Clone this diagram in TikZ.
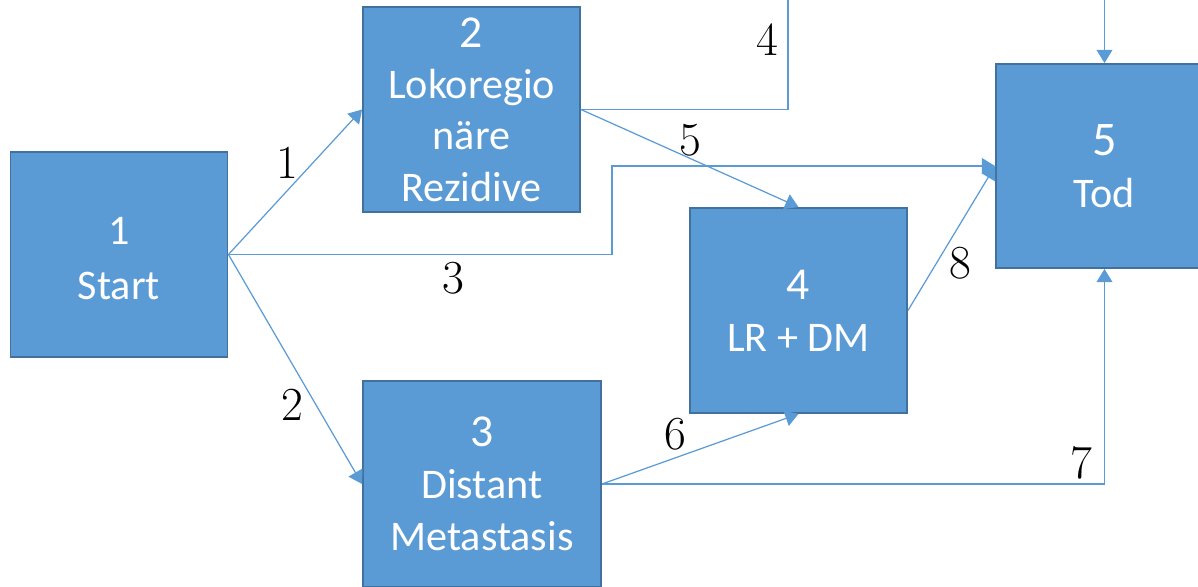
\documentclass[tikz,border=0pt]{standalone}
\usepackage{fontspec}
\usetikzlibrary{arrows.meta}
\newfontfamily\boxfont{Carlito}
\definecolor{boxfill}{HTML}{5B9BD5}
\definecolor{boxline}{HTML}{41719C}
\tikzset{
  state/.style={draw=boxline, line width=1.1pt, fill=boxfill, text=white,
    inner sep=0pt, align=center, minimum width=4.34cm, minimum height=4.1cm},
  trans/.style={draw=boxfill, line width=0.7pt, -{Triangle[length=7.5pt,width=9pt]}},
  lab/.style={font=\fontsize{27}{30}\selectfont}
}
\newcommand{\numline}[2]{{\fontsize{#1}{29.6}\selectfont #2}}
\begin{document}
\begin{tikzpicture}[x=0.02cm, y=-0.02cm]
    \useasboundingbox (0,0) rectangle (1198,587);
    \clip (0,0) rectangle (1198,587);
    % states
    \node[state, font=\boxfont\fontsize{24}{31}\selectfont] (start) at (119,254.5)
        {\rule{0pt}{20pt}1\\Start};
    \node[state, font=\boxfont\fontsize{24}{29.2}\selectfont] (lr) at (471.5,109.5)
        {\numline{26}{2}\\Lokoregio\\näre\\Rezidive};
    \node[state, minimum width=4.76cm, minimum height=4.12cm,
        font=\boxfont\fontsize{24}{29.6}\selectfont] (dm) at (482,484)
        {\numline{26}{3}\\Distant\\Metastasis};
    \node[state, font=\boxfont\fontsize{24}{29.6}\selectfont] (lrdm) at (798.5,310.5)
        {\numline{26}{4}\\LR + DM};
    \node[state, minimum height=4.08cm, font=\boxfont\fontsize{24}{29.6}\selectfont] (tod) at (1104.5,166)
        {\numline{27.5}{5}\\Tod};
    % bends
    \coordinate (k3) at (612,254.5);
    \coordinate (k4) at (788,-30);
    % transitions
    \draw[trans] (start.east) -- (lr.west);
    \draw[trans] (start.east) -- (dm.west);
    \draw[trans] (start.east) -- (k3) |- (tod.west);
    \draw[trans] (lr.east) -| (k4) -| (tod.north);
    \draw[trans] (lr.east) -- (lrdm.north);
    \draw[trans] (dm.east) -- (lrdm.south);
    \draw[trans] (dm.east) -| (tod.south);
    \draw[trans] (lrdm.east) -- (tod.west);
    % labels
    \node[lab] (l1) at (287,163) {1};
    \node[lab] (l2) at (292,405) {2};
    \node[lab] (l3) at (453,278) {3};
    \node[lab] (l4) at (767,40) {4};
    \node[lab] (l5) at (690,140) {5};
    \node[lab] (l6) at (675,434) {6};
    \node[lab] (l7) at (1081,463) {7};
    \node[lab] (l8) at (960,263) {8};
\end{tikzpicture}
\end{document}
